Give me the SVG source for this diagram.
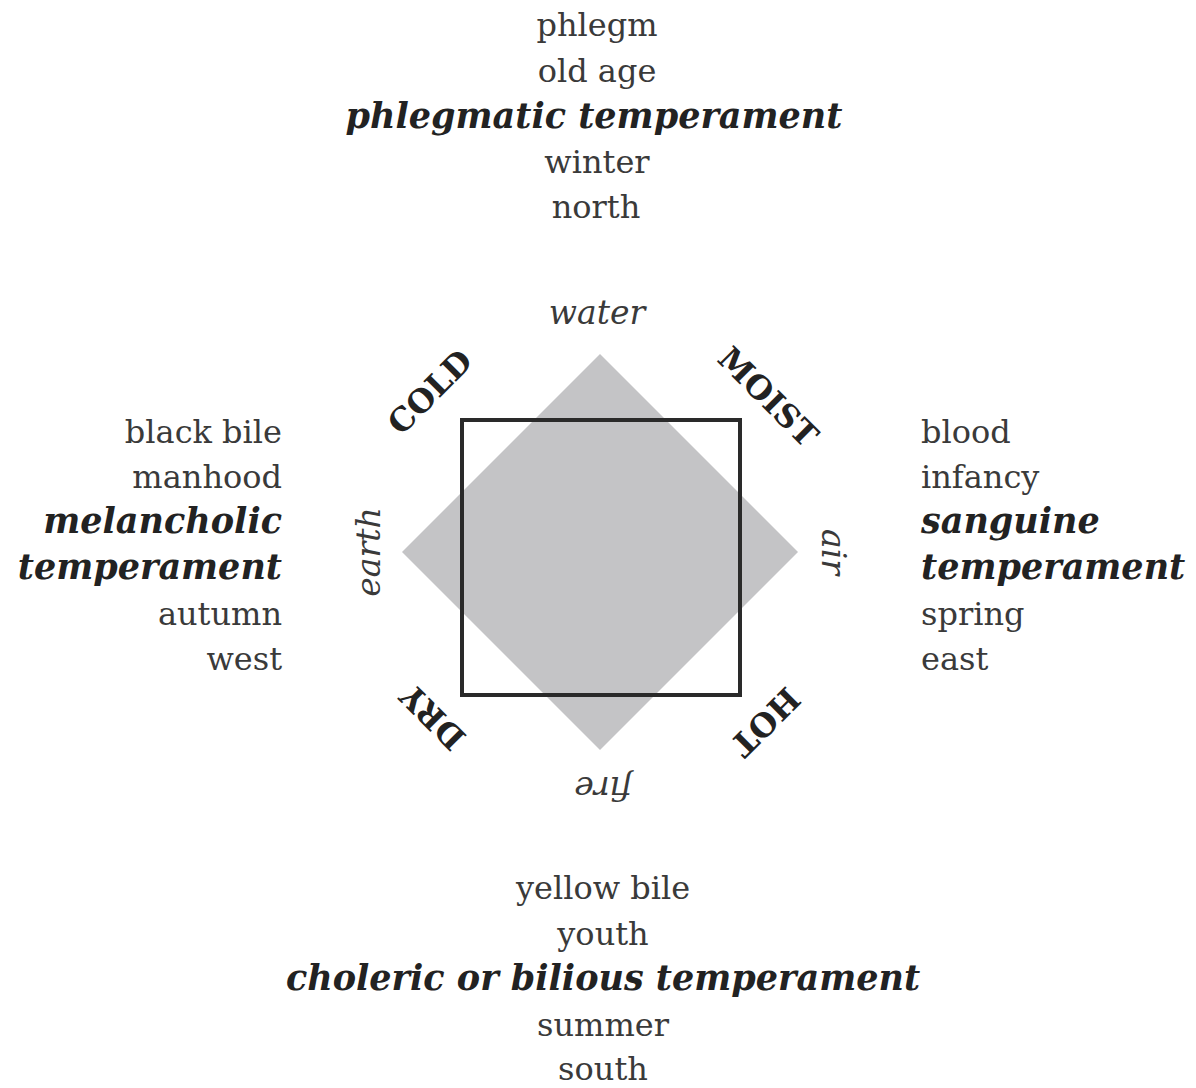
<svg xmlns="http://www.w3.org/2000/svg" width="1196" height="1088" viewBox="0 0 1196 1088">
<style>
.t{font-family:"DejaVu Serif","Liberation Serif",serif;font-size:32px;fill:#3a3a3a}
.b{font-family:"DejaVu Serif","Liberation Serif",serif;font-size:35px;font-weight:bold;font-style:italic;fill:#222}
.e{font-family:"DejaVu Serif","Liberation Serif",serif;font-size:33px;font-style:italic;fill:#3a3a3a}
.q{font-family:"DejaVu Serif","Liberation Serif",serif;font-size:32px;font-weight:bold;fill:#222}
.m{text-anchor:middle}
.r{text-anchor:end}
</style>
<rect width="1196" height="1088" fill="#fff"/>
<g id="diagram">
<polygon id="diamond" points="600,354 798,552 600,750 402,552" fill="#c4c4c6"/>
<rect id="square" x="462" y="420" width="278" height="275" fill="none" stroke="#2a2a2a" stroke-width="4"/>
</g>
<g id="connectors"/>
<g id="north">
<text class="t m" x="597" y="36">phlegm</text>
<text class="t m" x="597" y="82">old age</text>
<text class="b m" x="594" y="128">phlegmatic temperament</text>
<text class="t m" x="597" y="173">winter</text>
<text class="t m" x="596" y="218">north</text>
</g>
<g id="west">
<text class="t r" x="282" y="443">black bile</text>
<text class="t r" x="282" y="488">manhood</text>
<text class="b r" x="282" y="533">melancholic</text>
<text class="b r" x="282" y="579">temperament</text>
<text class="t r" x="282" y="625">autumn</text>
<text class="t r" x="282" y="670">west</text>
</g>
<g id="east">
<text class="t" x="921" y="443">blood</text>
<text class="t" x="921" y="488">infancy</text>
<text class="b" x="921" y="533">sanguine</text>
<text class="b" x="921" y="579">temperament</text>
<text class="t" x="921" y="625">spring</text>
<text class="t" x="921" y="670">east</text>
</g>
<g id="south">
<text class="t m" x="603" y="899">yellow bile</text>
<text class="t m" x="603" y="945">youth</text>
<text class="b m" x="603" y="990">choleric or bilious temperament</text>
<text class="t m" x="603" y="1036">summer</text>
<text class="t m" x="603" y="1080">south</text>
</g>
<g id="elements">
<text class="e m" x="597" y="324">water</text>
<text class="e m" transform="translate(603,788) rotate(180)" y="11">fire</text>
<text class="e m" transform="translate(369,552) rotate(-90)" y="11">earth</text>
<text class="e m" transform="translate(833,552) rotate(90)" y="11">air</text>
</g>
<g id="qualities">
<text class="q m" transform="translate(430,392) rotate(-45)" y="11">COLD</text>
<text class="q m" transform="translate(768,397) rotate(45)" y="11">MOIST</text>
<text class="q m" transform="translate(765,722) rotate(135)" y="11">HOT</text>
<text class="q m" transform="translate(433,717) rotate(-135)" y="11">DRY</text>
</g>
</svg>
